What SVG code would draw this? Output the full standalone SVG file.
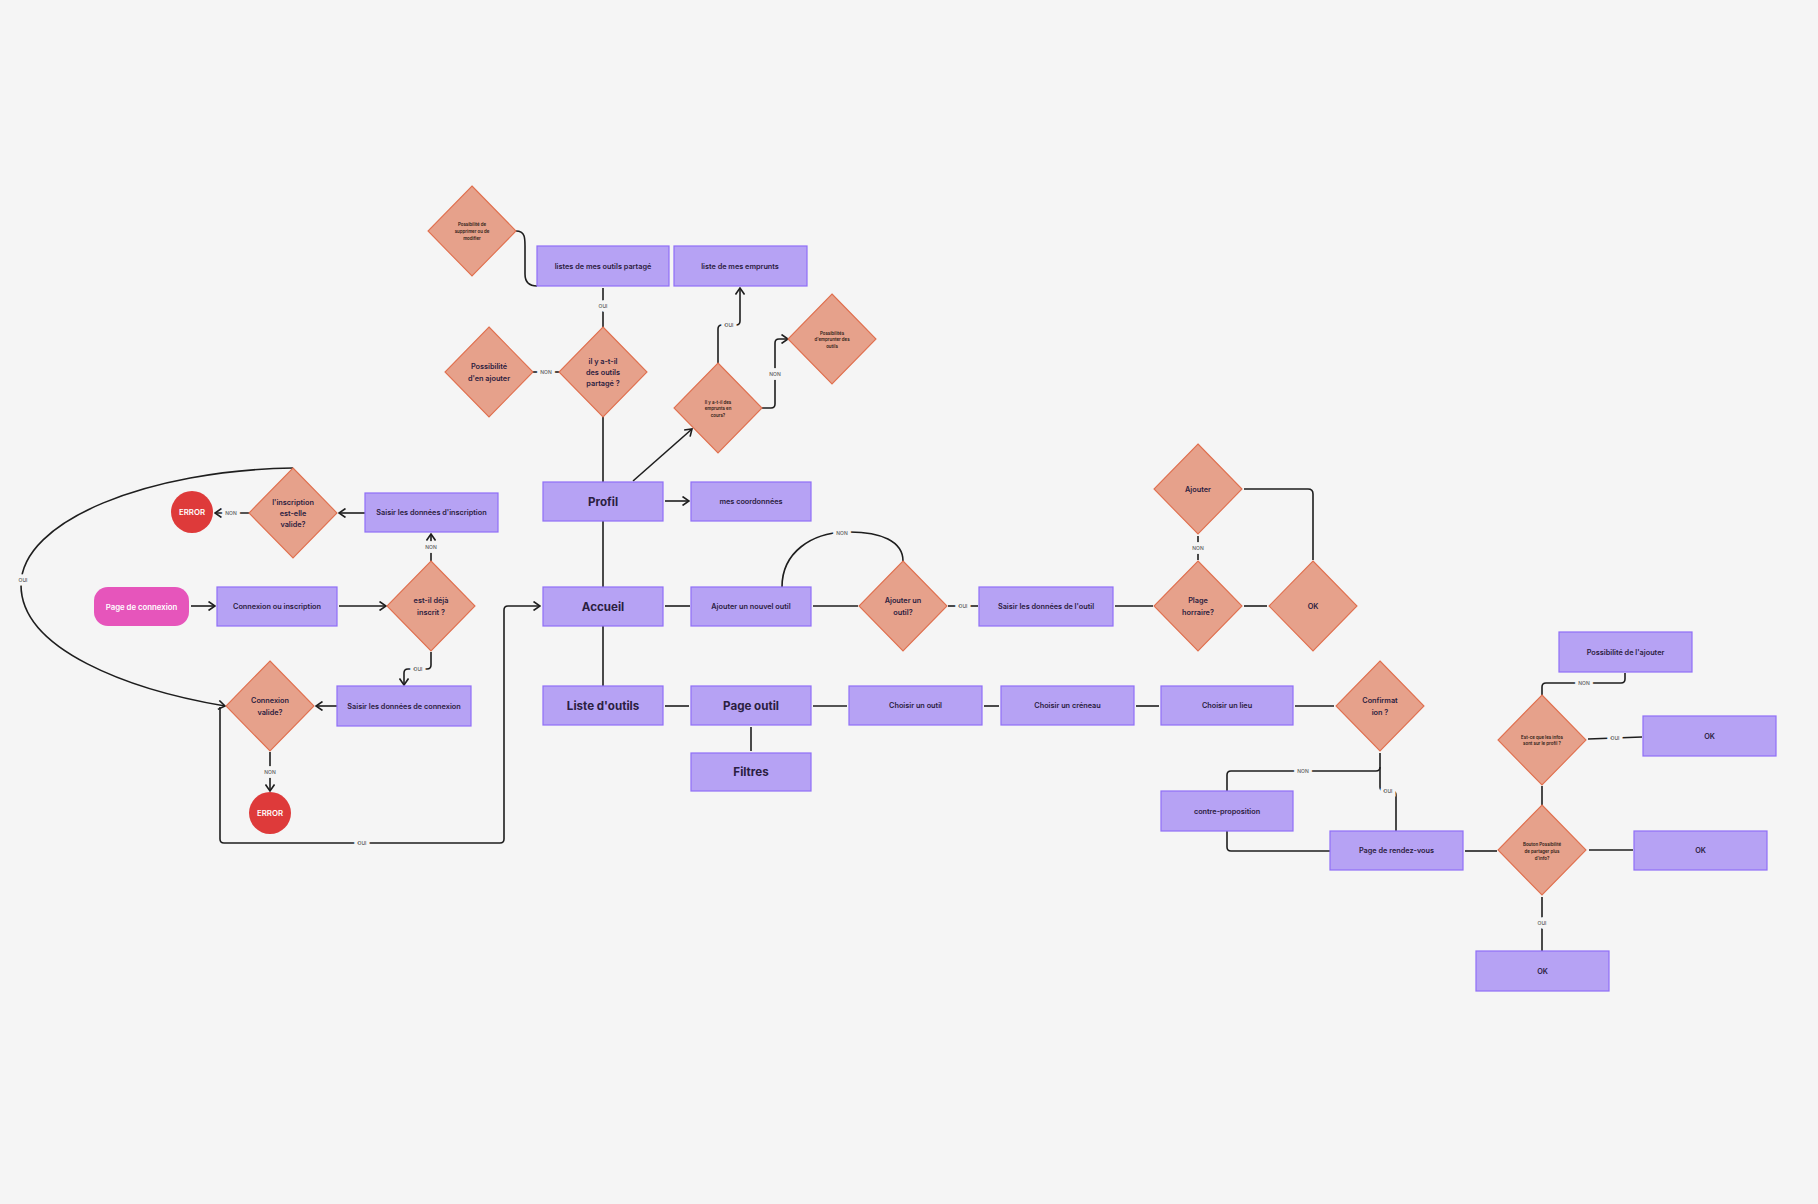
<svg xmlns="http://www.w3.org/2000/svg" width="1818" height="1204" viewBox="0 0 1818 1204">
<defs>
<style>
.bg{fill:#f5f5f5}
.box{fill:#b6a2f4;stroke:#8f6ef7;stroke-width:1.2}
.dia{fill:#e6a18b;stroke:#e0704f;stroke-width:1.1}
.t{font-family:Inter,"Liberation Sans",sans-serif;font-weight:600;font-size:7.3px;fill:#2b2040;text-anchor:middle;dominant-baseline:central}
.tb{font-family:Inter,"Liberation Sans",sans-serif;font-weight:700;font-size:11.6px;fill:#2b2040;text-anchor:middle;dominant-baseline:central}
.ts{font-family:Inter,"Liberation Sans",sans-serif;font-weight:600;font-size:4.4px;fill:#2b1a14;text-anchor:middle;dominant-baseline:central}
.tw{font-family:Inter,"Liberation Sans",sans-serif;font-weight:600;font-size:7.8px;fill:#ffffff;text-anchor:middle;dominant-baseline:central}
.c{fill:none;stroke:#1e1e1e;stroke-width:1.6}
.lbl{font-family:Inter,"Liberation Sans",sans-serif;font-weight:500;font-size:5px;fill:#555;text-anchor:middle;dominant-baseline:central;stroke:#f5f5f5;stroke-width:7;paint-order:stroke}
</style>
<marker id="arr" viewBox="0 0 10 10" refX="9" refY="5" markerWidth="10" markerHeight="10" markerUnits="userSpaceOnUse" orient="auto">
<path d="M2.5,0.5 L9,5 L2.5,9.5" fill="none" stroke="#1e1e1e" stroke-width="1.6"/>
</marker>
</defs>
<rect class="bg" x="0" y="0" width="1818" height="1204"/>

<g id="connectors">
<path class="c" d="M516,231 C525,231 525,238 525,246 L525,274 C525,282 529,286 537,286"/>
<path class="c" d="M603,288 L603,327"/>
<path class="c" d="M532,372 L560,372"/>
<path class="c" d="M603,417 L603,482"/>
<path class="c" d="M633,481 L692,429" marker-end="url(#arr)"/>
<path class="c" d="M718,363 L718,329 Q718,325 722,325 L736,325 Q740,325 740,321 L740,288" marker-end="url(#arr)"/>
<path class="c" d="M762,408 L771,408 Q775,408 775,404 L775,343 Q775,339 779,339 L788,339" marker-end="url(#arr)"/>
<path class="c" d="M665,501 L689,501" marker-end="url(#arr)"/>
<path class="c" d="M603,521 L603,587"/>
<path class="c" d="M603,626 L603,686"/>
<path class="c" d="M665,606 L690,606"/>
<path class="c" d="M813,606 L858,606"/>
<path class="c" d="M782,587 C782,552 812,533 845,532 C882,531 903,542 903,561"/>
<path class="c" d="M948,606 L978,606"/>
<path class="c" d="M1115,606 L1153,606"/>
<path class="c" d="M1244,606 L1267,606"/>
<path class="c" d="M1198,536 L1198,560"/>
<path class="c" d="M1244,489 L1308,489 Q1313,489 1313,494 L1313,560"/>
<path class="c" d="M665,706 L689,706"/>
<path class="c" d="M813,706 L847,706"/>
<path class="c" d="M984,706 L999,706"/>
<path class="c" d="M1136,706 L1159,706"/>
<path class="c" d="M1295,706 L1334,706"/>
<path class="c" d="M751,727 L751,751"/>
<path class="c" d="M1380,753 L1380,767 Q1380,771 1376,771 L1231,771 Q1227,771 1227,775 L1227,791"/>
<path class="c" d="M1380,767 L1380,787 Q1380,791 1384,791 L1392,791 Q1396,791 1396,795 L1396,831"/>
<path class="c" d="M1227,831 L1227,847 Q1227,851 1231,851 L1330,851"/>
<path class="c" d="M1465,851 L1497,851"/>
<path class="c" d="M1589,850 L1633,850"/>
<path class="c" d="M1542,897 L1542,951"/>
<path class="c" d="M1542,786 L1542,805"/>
<path class="c" d="M1588,739 L1642,737"/>
<path class="c" d="M1625,673 L1625,679 Q1625,683 1621,683 L1546,683 Q1542,683 1542,687 L1542,695"/>
<path class="c" d="M365,513 L339,513" marker-end="url(#arr)"/>
<path class="c" d="M250,513 L215,513" marker-end="url(#arr)"/>
<path class="c" d="M293,468 C150,470 21,520 21,585 C21,650 130,690 225,706" marker-end="url(#arr)"/>
<path class="c" d="M191,606 L215,606" marker-end="url(#arr)"/>
<path class="c" d="M339,606 L386,606" marker-end="url(#arr)"/>
<path class="c" d="M431,561 L431,534" marker-end="url(#arr)"/>
<path class="c" d="M431,652 L431,665 Q431,669 427,669 L408,669 Q404,669 404,673 L404,685" marker-end="url(#arr)"/>
<path class="c" d="M337,706 L316,706" marker-end="url(#arr)"/>
<path class="c" d="M270,752 L270,791" marker-end="url(#arr)"/>
<path class="c" d="M220,707 L220,839 Q220,843 224,843 L500,843 Q504,843 504,839 L504,610 Q504,606 508,606 L540,606" marker-end="url(#arr)"/>
<text class="lbl" x="603" y="306">OUI</text>
<text class="lbl" x="546" y="372">NON</text>
<text class="lbl" x="729" y="325">OUI</text>
<text class="lbl" x="775" y="374">NON</text>
<text class="lbl" x="842" y="533">NON</text>
<text class="lbl" x="963" y="606">OUI</text>
<text class="lbl" x="1198" y="548">NON</text>
<text class="lbl" x="1303" y="771">NON</text>
<text class="lbl" x="1388" y="791">OUI</text>
<text class="lbl" x="1542" y="923">OUI</text>
<text class="lbl" x="1615" y="738">OUI</text>
<text class="lbl" x="1584" y="683">NON</text>
<text class="lbl" x="231" y="513">NON</text>
<text class="lbl" x="23" y="580">OUI</text>
<text class="lbl" x="431" y="547">NON</text>
<text class="lbl" x="418" y="669">OUI</text>
<text class="lbl" x="270" y="772">NON</text>
<text class="lbl" x="362" y="843">OUI</text>
</g>

<g id="n-supprimer"><polygon class="dia" points="472,186 516,231 472,276 428,231"/><text class="ts" x="472" y="224">Possibilité de</text><text class="ts" x="472" y="231">supprimer ou de</text><text class="ts" x="472" y="238">modifier</text></g>
<g id="n-listes-partage"><rect class="box" x="537" y="246" width="132" height="40"/><text class="t" x="603" y="266">listes de mes outils partagé</text></g>
<g id="n-liste-emprunts"><rect class="box" x="674" y="246" width="133" height="40"/><text class="t" x="740" y="266">liste de mes emprunts</text></g>
<g id="n-en-ajouter"><polygon class="dia" points="489,327 533,372 489,417 445,372"/><text class="t" x="489" y="366">Possibilité</text><text class="t" x="489" y="378">d'en ajouter</text></g>
<g id="n-outils-partage"><polygon class="dia" points="603,327 647,372 603,417 559,372"/><text class="t" x="603" y="361">il y a-t-il</text><text class="t" x="603" y="372">des outils</text><text class="t" x="603" y="383">partagé ?</text></g>
<g id="n-emprunts-cours"><polygon class="dia" points="718,363 762,408 718,453 674,408"/><text class="ts" x="718" y="402">Il y a-t-il des</text><text class="ts" x="718" y="408">emprunts en</text><text class="ts" x="718" y="415">cours?</text></g>
<g id="n-emprunter"><polygon class="dia" points="832,294 876,339 832,384 788,339"/><text class="ts" x="832" y="333">Possibilités</text><text class="ts" x="832" y="339">d'emprunter des</text><text class="ts" x="832" y="346">outils</text></g>
<g id="n-profil"><rect class="box" x="543" y="482" width="120" height="39"/><text class="tb" x="603" y="501.5">Profil</text></g>
<g id="n-coord"><rect class="box" x="691" y="482" width="120" height="39"/><text class="t" x="751" y="501.5">mes coordonnées</text></g>
<g id="n-accueil"><rect class="box" x="543" y="587" width="120" height="39"/><text class="tb" x="603" y="606.5">Accueil</text></g>
<g id="n-ajouter-nouvel"><rect class="box" x="691" y="587" width="120" height="39"/><text class="t" x="751" y="606.5">Ajouter un nouvel outil</text></g>
<g id="n-ajouter-outil"><polygon class="dia" points="903,561 947,606 903,651 859,606"/><text class="t" x="903" y="600">Ajouter un</text><text class="t" x="903" y="612">outil?</text></g>
<g id="n-saisir-outil"><rect class="box" x="979" y="587" width="134" height="39"/><text class="t" x="1046" y="606.5">Saisir les données de l'outil</text></g>
<g id="n-ajouter"><polygon class="dia" points="1198,444 1242,489 1198,534 1154,489"/><text class="t" x="1198" y="489">Ajouter</text></g>
<g id="n-plage"><polygon class="dia" points="1198,561 1242,606 1198,651 1154,606"/><text class="t" x="1198" y="600">Plage</text><text class="t" x="1198" y="612">horraire?</text></g>
<g id="n-ok-dia"><polygon class="dia" points="1313,561 1357,606 1313,651 1269,606"/><text class="t" x="1313" y="606">OK</text></g>
<g id="n-liste-outils"><rect class="box" x="543" y="686" width="120" height="39"/><text class="tb" x="603" y="705.5">Liste d'outils</text></g>
<g id="n-page-outil"><rect class="box" x="691" y="686" width="120" height="39"/><text class="tb" x="751" y="705.5">Page outil</text></g>
<g id="n-filtres"><rect class="box" x="691" y="753" width="120" height="38"/><text class="tb" x="751" y="772">Filtres</text></g>
<g id="n-choisir-outil"><rect class="box" x="849" y="686" width="133" height="39"/><text class="t" x="915.5" y="705.5">Choisir un outil</text></g>
<g id="n-creneau"><rect class="box" x="1001" y="686" width="133" height="39"/><text class="t" x="1067.5" y="705.5">Choisir un créneau</text></g>
<g id="n-lieu"><rect class="box" x="1161" y="686" width="132" height="39"/><text class="t" x="1227" y="705.5">Choisir un lieu</text></g>
<g id="n-confirmation"><polygon class="dia" points="1380,661 1424,706 1380,751 1336,706"/><text class="t" x="1380" y="700">Confirmat</text><text class="t" x="1380" y="712">ion ?</text></g>
<g id="n-contre"><rect class="box" x="1161" y="791" width="132" height="40"/><text class="t" x="1227" y="811">contre-proposition</text></g>
<g id="n-rdv"><rect class="box" x="1330" y="831" width="133" height="39"/><text class="t" x="1396.5" y="850.5">Page de rendez-vous</text></g>
<g id="n-possib-ajouter"><rect class="box" x="1559" y="632" width="133" height="40"/><text class="t" x="1625.5" y="652">Possibilité de l'ajouter</text></g>
<g id="n-infos-profil"><polygon class="dia" points="1542,695 1586,740 1542,785 1498,740"/><text class="ts" x="1542" y="737">Est-ce que les infos</text><text class="ts" x="1542" y="743.5">sont sur le profil ?</text></g>
<g id="n-ok1"><rect class="box" x="1643" y="716" width="133" height="40"/><text class="t" x="1709.5" y="736">OK</text></g>
<g id="n-bouton"><polygon class="dia" points="1542,805 1586,850 1542,895 1498,850"/><text class="ts" x="1542" y="844">Bouton Possibilité</text><text class="ts" x="1542" y="851">de partager plus</text><text class="ts" x="1542" y="858">d'info?</text></g>
<g id="n-ok2"><rect class="box" x="1634" y="831" width="133" height="39"/><text class="t" x="1700.5" y="850.5">OK</text></g>
<g id="n-ok3"><rect class="box" x="1476" y="951" width="133" height="40"/><text class="t" x="1542.5" y="971">OK</text></g>
<g id="n-saisir-inscription"><rect class="box" x="365" y="493" width="133" height="39"/><text class="t" x="431.5" y="512.5">Saisir les données d'inscription</text></g>
<g id="n-inscription-valide"><polygon class="dia" points="293,468 337,513 293,558 249,513"/><text class="t" x="293" y="502">l'inscription</text><text class="t" x="293" y="513">est-elle</text><text class="t" x="293" y="524">valide?</text></g>
<g id="n-error1"><circle cx="192" cy="512" r="21" fill="#de3a3a"/><text class="tw" x="192" y="512">ERROR</text></g>
<g id="n-page-connexion"><rect x="94" y="587" width="95" height="39" rx="14" fill="#e655bb"/><text class="tw" x="141.5" y="606.5">Page de connexion</text></g>
<g id="n-connexion-inscription"><rect class="box" x="217" y="587" width="120" height="39"/><text class="t" x="277" y="606.5">Connexion ou inscription</text></g>
<g id="n-deja-inscrit"><polygon class="dia" points="431,561 475,606 431,651 387,606"/><text class="t" x="431" y="600">est-il déjà</text><text class="t" x="431" y="612">inscrit ?</text></g>
<g id="n-saisir-connexion"><rect class="box" x="337" y="686" width="134" height="40"/><text class="t" x="404" y="706">Saisir les données de connexion</text></g>
<g id="n-connexion-valide"><polygon class="dia" points="270,661 314,706 270,751 226,706"/><text class="t" x="270" y="700">Connexion</text><text class="t" x="270" y="712">valide?</text></g>
<g id="n-error2"><circle cx="270" cy="813" r="21" fill="#de3a3a"/><text class="tw" x="270" y="813">ERROR</text></g>
</svg>
